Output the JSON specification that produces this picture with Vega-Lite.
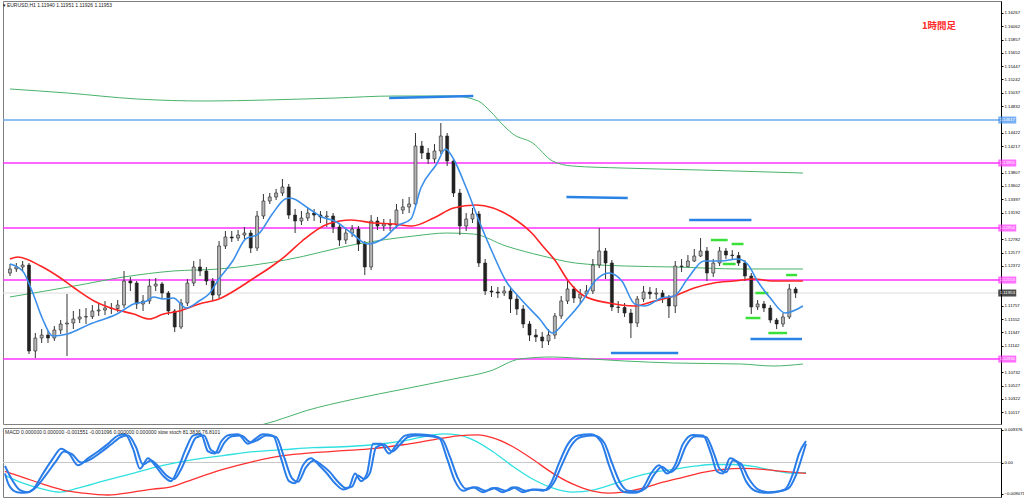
{
"$schema":"https://vega.github.io/schema/vega-lite/v6.json",
"padding":0,
"background":"white",
"spacing":2,
"title":{"text":"▾ EURUSD,H1 1.11940 1.11951 1.11926 1.11953","anchor":"start","offset":-7,"dx":2,"font":"Liberation Sans","fontSize":5,"fontWeight":"normal","color":"#222"},
"config":{"view":{"stroke":"#808080","strokeWidth":1},"axis":{"grid":false,"labelFont":"Liberation Sans","labelFontSize":4.3,"labelColor":"#000","tickColor":"#000","tickSize":2,"domainColor":"#000","labelPadding":1}},
"datasets":{
"levels":[{"p":1.14617,"kind":"blue"},{"p":1.13955,"kind":"mag"},{"p":1.12954,"kind":"mag"},{"p":1.12153,"kind":"mag"},{"p":1.10936,"kind":"mag"},{"p":1.11953,"kind":"cur"}],
"segs":[{"kind":"blue","i1":239.4,"i2":292.5,"p1":1.14956,"p2":1.14987},{"kind":"blue","i1":351.3,"i2":390,"p1":1.13432,"p2":1.13416},{"kind":"blue","i1":428.8,"i2":468.1,"p1":1.13077,"p2":1.13077},{"kind":"blue","i1":379.4,"i2":421.9,"p1":1.11029,"p2":1.11029},{"kind":"blue","i1":467.5,"i2":500,"p1":1.11245,"p2":1.11245},{"kind":"green","i1":442.5,"i2":453.1,"p1":1.12769,"p2":1.12769},{"kind":"green","i1":455.6,"i2":463.1,"p1":1.12708,"p2":1.12708},{"kind":"green","i1":450,"i2":458.1,"p1":1.124,"p2":1.124},{"kind":"green","i1":470.6,"i2":478.8,"p1":1.11953,"p2":1.11953},{"kind":"green","i1":490,"i2":496.9,"p1":1.1223,"p2":1.1223},{"kind":"green","i1":464.4,"i2":473.8,"p1":1.11568,"p2":1.11568},{"kind":"green","i1":478.8,"i2":490.6,"p1":1.11337,"p2":1.11337}],
"candles":[
{"i":0,"o":1.12261,"h":1.124,"l":1.12215,"c":1.12323},{"i":4,"o":1.12323,"h":1.12415,"l":1.12277,"c":1.12354},{"i":8,"o":1.12354,"h":1.12446,"l":1.12292,"c":1.12384},{"i":12,"o":1.12384,"h":1.12415,"l":1.11014,"c":1.1106},{"i":16,"o":1.1106,"h":1.11337,"l":1.10952,"c":1.1126},{"i":20,"o":1.1126,"h":1.11399,"l":1.11183,"c":1.11306},{"i":24,"o":1.11306,"h":1.11368,"l":1.11183,"c":1.1126},{"i":28,"o":1.1126,"h":1.11445,"l":1.11214,"c":1.11383},{"i":32,"o":1.11383,"h":1.11537,"l":1.11322,"c":1.11476},{"i":36,"o":1.11476,"h":1.11938,"l":1.10983,"c":1.11491},
{"i":40,"o":1.11491,"h":1.11676,"l":1.11399,"c":1.11553},{"i":44,"o":1.11553,"h":1.11707,"l":1.11491,"c":1.11584},{"i":48,"o":1.11584,"h":1.11722,"l":1.11476,"c":1.1159},{"i":52,"o":1.1159,"h":1.11768,"l":1.11553,"c":1.11676},{"i":56,"o":1.11676,"h":1.11799,"l":1.11599,"c":1.11691},{"i":60,"o":1.11691,"h":1.1183,"l":1.11614,"c":1.11722},{"i":64,"o":1.11722,"h":1.11799,"l":1.1163,"c":1.11715},{"i":68,"o":1.11715,"h":1.11845,"l":1.11661,"c":1.11768},{"i":72,"o":1.11768,"h":1.12292,"l":1.11722,"c":1.12138},{"i":76,"o":1.12138,"h":1.122,"l":1.11984,"c":1.12107},
{"i":80,"o":1.12107,"h":1.12138,"l":1.11707,"c":1.11784},{"i":84,"o":1.11784,"h":1.11922,"l":1.11676,"c":1.1183},{"i":88,"o":1.1183,"h":1.12169,"l":1.11784,"c":1.12061},{"i":92,"o":1.12061,"h":1.12184,"l":1.11984,"c":1.12092},{"i":96,"o":1.12092,"h":1.12123,"l":1.11861,"c":1.11953},{"i":100,"o":1.11953,"h":1.11984,"l":1.11614,"c":1.11676},{"i":104,"o":1.11676,"h":1.11707,"l":1.11353,"c":1.1143},{"i":108,"o":1.1143,"h":1.11861,"l":1.11399,"c":1.11799},{"i":112,"o":1.11799,"h":1.12169,"l":1.11753,"c":1.12107},{"i":116,"o":1.12107,"h":1.12446,"l":1.12061,"c":1.12354},
{"i":120,"o":1.12354,"h":1.12477,"l":1.12215,"c":1.12292},{"i":124,"o":1.12292,"h":1.12354,"l":1.12076,"c":1.12138},{"i":128,"o":1.12138,"h":1.12184,"l":1.1183,"c":1.11922},{"i":132,"o":1.11922,"h":1.12754,"l":1.11876,"c":1.12677},{"i":136,"o":1.12677,"h":1.12908,"l":1.12631,"c":1.12816},{"i":140,"o":1.12816,"h":1.12908,"l":1.12739,"c":1.128},{"i":144,"o":1.128,"h":1.12923,"l":1.12754,"c":1.12846},{"i":148,"o":1.12846,"h":1.1297,"l":1.12785,"c":1.12877},{"i":152,"o":1.12877,"h":1.12923,"l":1.12569,"c":1.12646},{"i":156,"o":1.12646,"h":1.13216,"l":1.126,"c":1.13139},
{"i":160,"o":1.13139,"h":1.13478,"l":1.13093,"c":1.1337},{"i":164,"o":1.1337,"h":1.13493,"l":1.13324,"c":1.13432},{"i":168,"o":1.13432,"h":1.13555,"l":1.13385,"c":1.13493},{"i":172,"o":1.13493,"h":1.13709,"l":1.13447,"c":1.13586},{"i":176,"o":1.13586,"h":1.13632,"l":1.13093,"c":1.13154},{"i":180,"o":1.13154,"h":1.13247,"l":1.12877,"c":1.13062},{"i":184,"o":1.13062,"h":1.13216,"l":1.13,"c":1.13108},{"i":188,"o":1.13108,"h":1.13262,"l":1.13062,"c":1.13185},{"i":192,"o":1.13185,"h":1.13247,"l":1.13062,"c":1.13154},{"i":196,"o":1.13154,"h":1.13216,"l":1.13031,"c":1.13124},
{"i":200,"o":1.13124,"h":1.13216,"l":1.1297,"c":1.13139},{"i":204,"o":1.13139,"h":1.13185,"l":1.12877,"c":1.1297},{"i":208,"o":1.1297,"h":1.13016,"l":1.12677,"c":1.12769},{"i":212,"o":1.12769,"h":1.12954,"l":1.12708,"c":1.12877},{"i":216,"o":1.12877,"h":1.13,"l":1.12816,"c":1.12939},{"i":220,"o":1.12939,"h":1.12985,"l":1.126,"c":1.12708},{"i":224,"o":1.12708,"h":1.12754,"l":1.1223,"c":1.12354},{"i":228,"o":1.12354,"h":1.13154,"l":1.12307,"c":1.13062},{"i":232,"o":1.13062,"h":1.13124,"l":1.12923,"c":1.12985},{"i":236,"o":1.12985,"h":1.13093,"l":1.12908,"c":1.13016},
{"i":240,"o":1.13016,"h":1.13093,"l":1.12908,"c":1.13},{"i":244,"o":1.13,"h":1.13324,"l":1.12954,"c":1.13231},{"i":248,"o":1.13231,"h":1.13401,"l":1.1317,"c":1.13278},{"i":252,"o":1.13278,"h":1.13432,"l":1.13185,"c":1.13324},{"i":256,"o":1.13324,"h":1.14417,"l":1.13293,"c":1.14217},{"i":260,"o":1.14217,"h":1.14294,"l":1.14017,"c":1.14109},{"i":264,"o":1.14109,"h":1.14186,"l":1.1394,"c":1.14017},{"i":268,"o":1.14017,"h":1.14248,"l":1.13955,"c":1.1414},{"i":272,"o":1.1414,"h":1.14571,"l":1.14094,"c":1.14371},{"i":276,"o":1.14371,"h":1.14417,"l":1.13909,"c":1.13986},
{"i":280,"o":1.13986,"h":1.14032,"l":1.13432,"c":1.13493},{"i":284,"o":1.13493,"h":1.13555,"l":1.12846,"c":1.12985},{"i":288,"o":1.12985,"h":1.13185,"l":1.12908,"c":1.13093},{"i":292,"o":1.13093,"h":1.13262,"l":1.13031,"c":1.1317},{"i":296,"o":1.1317,"h":1.13216,"l":1.12354,"c":1.12415},{"i":300,"o":1.12415,"h":1.12477,"l":1.11922,"c":1.11984},{"i":304,"o":1.11984,"h":1.12061,"l":1.11892,"c":1.11969},{"i":308,"o":1.11969,"h":1.12046,"l":1.11876,"c":1.11953},{"i":312,"o":1.11953,"h":1.12061,"l":1.11907,"c":1.11984},{"i":316,"o":1.11984,"h":1.12046,"l":1.11645,"c":1.11861},
{"i":320,"o":1.11861,"h":1.11922,"l":1.11614,"c":1.11707},{"i":324,"o":1.11707,"h":1.11768,"l":1.11414,"c":1.11476},{"i":328,"o":1.11476,"h":1.11522,"l":1.11214,"c":1.11306},{"i":332,"o":1.11306,"h":1.11399,"l":1.11199,"c":1.11276},{"i":336,"o":1.11276,"h":1.11353,"l":1.11106,"c":1.11214},{"i":340,"o":1.11214,"h":1.11399,"l":1.11152,"c":1.11306},{"i":344,"o":1.11306,"h":1.11645,"l":1.11245,"c":1.11599},{"i":348,"o":1.11599,"h":1.11907,"l":1.11553,"c":1.1183},{"i":352,"o":1.1183,"h":1.12138,"l":1.11784,"c":1.12015},{"i":356,"o":1.12015,"h":1.12061,"l":1.11799,"c":1.11876},
{"i":360,"o":1.11876,"h":1.12015,"l":1.11784,"c":1.11938},{"i":364,"o":1.11938,"h":1.12076,"l":1.11876,"c":1.11984},{"i":368,"o":1.11984,"h":1.12477,"l":1.11938,"c":1.12384},{"i":372,"o":1.12384,"h":1.12954,"l":1.12338,"c":1.126},{"i":376,"o":1.126,"h":1.12646,"l":1.12169,"c":1.12415},{"i":380,"o":1.12415,"h":1.12461,"l":1.11676,"c":1.11738},{"i":384,"o":1.11738,"h":1.1183,"l":1.11645,"c":1.1173},{"i":388,"o":1.1173,"h":1.11799,"l":1.11584,"c":1.11645},{"i":392,"o":1.11645,"h":1.11707,"l":1.1126,"c":1.11491},{"i":396,"o":1.11491,"h":1.11907,"l":1.1143,"c":1.11861},
{"i":400,"o":1.11861,"h":1.12061,"l":1.11815,"c":1.11969},{"i":404,"o":1.11969,"h":1.12046,"l":1.11861,"c":1.11938},{"i":408,"o":1.11938,"h":1.1203,"l":1.11861,"c":1.11953},{"i":412,"o":1.11953,"h":1.11999,"l":1.11799,"c":1.11876},{"i":416,"o":1.11876,"h":1.11922,"l":1.11568,"c":1.11753},{"i":420,"o":1.11753,"h":1.12446,"l":1.11645,"c":1.12369},{"i":424,"o":1.12369,"h":1.12477,"l":1.12277,"c":1.1236},{"i":428,"o":1.1236,"h":1.12538,"l":1.12354,"c":1.12446},{"i":432,"o":1.12446,"h":1.12631,"l":1.12431,"c":1.12523},{"i":436,"o":1.12523,"h":1.128,"l":1.12508,"c":1.126},
{"i":440,"o":1.126,"h":1.12662,"l":1.12138,"c":1.12261},{"i":444,"o":1.12261,"h":1.12477,"l":1.122,"c":1.12415},{"i":448,"o":1.12415,"h":1.12662,"l":1.12369,"c":1.126},{"i":452,"o":1.126,"h":1.12646,"l":1.12477,"c":1.12538},{"i":456,"o":1.12538,"h":1.12615,"l":1.12461,"c":1.1253},{"i":460,"o":1.1253,"h":1.12585,"l":1.12369,"c":1.12415},{"i":464,"o":1.12415,"h":1.12461,"l":1.12138,"c":1.12215},{"i":468,"o":1.12215,"h":1.12261,"l":1.1163,"c":1.11738},{"i":472,"o":1.11738,"h":1.11845,"l":1.11691,"c":1.11784},{"i":476,"o":1.11784,"h":1.1183,"l":1.11661,"c":1.11722},
{"i":480,"o":1.11722,"h":1.11768,"l":1.11491,"c":1.11537},{"i":484,"o":1.11537,"h":1.11568,"l":1.11399,"c":1.11476},{"i":488,"o":1.11476,"h":1.11645,"l":1.1143,"c":1.11584},{"i":492,"o":1.11584,"h":1.12092,"l":1.11553,"c":1.12015},{"i":496,"o":1.12015,"h":1.12046,"l":1.11876,"c":1.11953}
],
"ma":[
{"s":"blue","i":0,"p":1.124},{"s":"blue","i":8,"p":1.12292},{"s":"blue","i":14.4,"p":1.11953},{"s":"blue","i":20.6,"p":1.11553},{"s":"blue","i":26.9,"p":1.11291},{"s":"blue","i":36.3,"p":1.11322},{"s":"blue","i":50.6,"p":1.11476},{"s":"blue","i":67.5,"p":1.1163},{"s":"blue","i":78.1,"p":1.11784},{"s":"blue","i":86.3,"p":1.1183},{"s":"blue","i":90.6,"p":1.11892},{"s":"blue","i":96.9,"p":1.11861},{"s":"blue","i":103.1,"p":1.11876},{"s":"blue","i":111.3,"p":1.11722},{"s":"blue","i":119.4,"p":1.1183},{"s":"blue","i":125.6,"p":1.11938},{"s":"blue","i":131.9,"p":1.12169},{"s":"blue","i":140.6,"p":1.12446},{"s":"blue","i":148.8,"p":1.12785},{"s":"blue","i":156.9,"p":1.12862},{"s":"blue","i":165.6,"p":1.1317},{"s":"blue","i":173.8,"p":1.13401},{"s":"blue","i":177,"p":1.13416},{"s":"blue","i":188.1,"p":1.13262},{"s":"blue","i":196.9,"p":1.13124},{"s":"blue","i":205,"p":1.13062},{"s":"blue","i":215.6,"p":1.12877},{"s":"blue","i":225.6,"p":1.12708},{"s":"blue","i":236.3,"p":1.128},{"s":"blue","i":244.4,"p":1.12985},{"s":"blue","i":253.1,"p":1.13093},{"s":"blue","i":259.4,"p":1.1357},{"s":"blue","i":269.4,"p":1.1394},{"s":"blue","i":275,"p":1.14171},{"s":"blue","i":280,"p":1.14017},{"s":"blue","i":288.1,"p":1.1357},{"s":"blue","i":296.9,"p":1.13016},{"s":"blue","i":305,"p":1.12554},{"s":"blue","i":313.1,"p":1.12138},{"s":"blue","i":321.9,"p":1.11876},{"s":"blue","i":334.4,"p":1.11553},{"s":"blue","i":342.5,"p":1.11337},{"s":"blue","i":350.6,"p":1.11522},{"s":"blue","i":361.3,"p":1.1183},{"s":"blue","i":369.4,"p":1.12138},{"s":"blue","i":378.1,"p":1.12261},{"s":"blue","i":386.3,"p":1.12138},{"s":"blue","i":394.4,"p":1.11784},{"s":"blue","i":400.6,"p":1.11753},{"s":"blue","i":411.3,"p":1.11876},{"s":"blue","i":419.4,"p":1.11907},{"s":"blue","i":428.1,"p":1.12184},{"s":"blue","i":438.1,"p":1.12446},{"s":"blue","i":448.8,"p":1.12446},{"s":"blue","i":459.4,"p":1.12477},{"s":"blue","i":465.6,"p":1.124},{"s":"blue","i":471.9,"p":1.12138},{"s":"blue","i":480,"p":1.11876},{"s":"blue","i":489.4,"p":1.11645},{"s":"blue","i":500.6,"p":1.11753},
{"s":"red","i":0,"p":1.12477},{"s":"red","i":5,"p":1.12508},{"s":"red","i":19.4,"p":1.12369},{"s":"red","i":31.9,"p":1.12184},{"s":"red","i":40.6,"p":1.1203},{"s":"red","i":53.1,"p":1.1183},{"s":"red","i":65.6,"p":1.11707},{"s":"red","i":78.1,"p":1.1163},{"s":"red","i":88.1,"p":1.11553},{"s":"red","i":96.9,"p":1.1163},{"s":"red","i":106.9,"p":1.11676},{"s":"red","i":119.4,"p":1.11784},{"s":"red","i":131.9,"p":1.11861},{"s":"red","i":144.4,"p":1.1203},{"s":"red","i":153.1,"p":1.12169},{"s":"red","i":165.6,"p":1.12369},{"s":"red","i":173.8,"p":1.12523},{"s":"red","i":184.4,"p":1.12754},{"s":"red","i":200.6,"p":1.13016},{"s":"red","i":215.6,"p":1.13077},{"s":"red","i":230,"p":1.13031},{"s":"red","i":242.5,"p":1.13016},{"s":"red","i":253.8,"p":1.12985},{"s":"red","i":267.5,"p":1.13108},{"s":"red","i":280,"p":1.13262},{"s":"red","i":294.4,"p":1.13308},{"s":"red","i":305,"p":1.13262},{"s":"red","i":317.5,"p":1.13108},{"s":"red","i":330,"p":1.12862},{"s":"red","i":336.3,"p":1.12677},{"s":"red","i":344.4,"p":1.12446},{"s":"red","i":352.5,"p":1.12138},{"s":"red","i":362.5,"p":1.11907},{"s":"red","i":378.1,"p":1.11799},{"s":"red","i":394.4,"p":1.11753},{"s":"red","i":406.9,"p":1.1183},{"s":"red","i":419.4,"p":1.11907},{"s":"red","i":431.9,"p":1.1203},{"s":"red","i":444.4,"p":1.12107},{"s":"red","i":456.9,"p":1.12138},{"s":"red","i":469.4,"p":1.12169},{"s":"red","i":481.9,"p":1.12138},{"s":"red","i":500.6,"p":1.12138},
{"s":"green","i":0,"p":1.11892},{"s":"green","i":40.6,"p":1.12061},{"s":"green","i":71.9,"p":1.122},{"s":"green","i":103.1,"p":1.12292},{"s":"green","i":131.9,"p":1.12323},{"s":"green","i":173.8,"p":1.12461},{"s":"green","i":219.4,"p":1.12708},{"s":"green","i":255,"p":1.12831},{"s":"green","i":275.6,"p":1.12877},{"s":"green","i":292.5,"p":1.12862},{"s":"green","i":313.1,"p":1.12677},{"s":"green","i":336.3,"p":1.12523},{"s":"green","i":356.9,"p":1.12415},{"s":"green","i":388.1,"p":1.12369},{"s":"green","i":419.4,"p":1.12354},{"s":"green","i":461.3,"p":1.12323},{"s":"green","i":500.6,"p":1.12323},
{"s":"upper","i":0,"p":1.15095},{"s":"upper","i":36.3,"p":1.15033},{"s":"upper","i":80,"p":1.14941},{"s":"upper","i":123.8,"p":1.1491},{"s":"upper","i":161.3,"p":1.14925},{"s":"upper","i":205,"p":1.14956},{"s":"upper","i":242.5,"p":1.14987},{"s":"upper","i":280,"p":1.14987},{"s":"upper","i":295.6,"p":1.1491},{"s":"upper","i":303.1,"p":1.14756},{"s":"upper","i":311.3,"p":1.1454},{"s":"upper","i":317.5,"p":1.14402},{"s":"upper","i":330,"p":1.14263},{"s":"upper","i":342.5,"p":1.13986},{"s":"upper","i":355,"p":1.13909},{"s":"upper","i":386.3,"p":1.13878},{"s":"upper","i":436.3,"p":1.13847},{"s":"upper","i":500.6,"p":1.13801},
{"s":"lower","i":148.8,"p":1.09859},{"s":"lower","i":167.5,"p":1.09982},{"s":"lower","i":186.3,"p":1.10136},{"s":"lower","i":217.5,"p":1.10321},{"s":"lower","i":248.8,"p":1.10475},{"s":"lower","i":280,"p":1.10629},{"s":"lower","i":303.1,"p":1.10752},{"s":"lower","i":321.9,"p":1.10937},{"s":"lower","i":342.5,"p":1.10968},{"s":"lower","i":356.9,"p":1.10952},{"s":"lower","i":388.1,"p":1.10906},{"s":"lower","i":419.4,"p":1.10875},{"s":"lower","i":461.3,"p":1.1086},{"s":"lower","i":481.9,"p":1.10829},{"s":"lower","i":500.6,"p":1.1086}
],
"macd":[
{"s":"macd","i":0,"v":-0.00369},{"s":"macd","i":11.25,"v":-0.00596},{"s":"macd","i":23.75,"v":-0.00767},{"s":"macd","i":34.4,"v":-0.00852},{"s":"macd","i":45.6,"v":-0.00738},{"s":"macd","i":61.25,"v":-0.0054},{"s":"macd","i":80,"v":-0.00312},{"s":"macd","i":98.75,"v":-0.00085},{"s":"macd","i":117.5,"v":0.00085},{"s":"macd","i":136.25,"v":0.00199},{"s":"macd","i":155,"v":0.00312},{"s":"macd","i":173.75,"v":0.00369},{"s":"macd","i":192.5,"v":0.00426},{"s":"macd","i":211.25,"v":0.00454},{"s":"macd","i":230,"v":0.00511},{"s":"macd","i":248.75,"v":0.00625},{"s":"macd","i":261.25,"v":0.00738},{"s":"macd","i":273.75,"v":0.00824},{"s":"macd","i":283.1,"v":0.00795},{"s":"macd","i":292.5,"v":0.00653},{"s":"macd","i":305,"v":0.00312},{"s":"macd","i":317.5,"v":-0.00114},{"s":"macd","i":330,"v":-0.00483},{"s":"macd","i":342.5,"v":-0.00738},{"s":"macd","i":355,"v":-0.00852},{"s":"macd","i":367.5,"v":-0.00795},{"s":"macd","i":380,"v":-0.00625},{"s":"macd","i":392.5,"v":-0.00426},{"s":"macd","i":405,"v":-0.00284},{"s":"macd","i":417.5,"v":-0.00199},{"s":"macd","i":430,"v":-0.00114},{"s":"macd","i":442.5,"v":-0.00057},{"s":"macd","i":455,"v":-0.00057},{"s":"macd","i":467.5,"v":-0.00114},{"s":"macd","i":480,"v":-0.00227},{"s":"macd","i":492.5,"v":-0.00312},{"s":"macd","i":500.6,"v":-0.00284},
{"s":"signal","i":0,"v":-0.00256},{"s":"signal","i":11.25,"v":-0.00426},{"s":"signal","i":23.75,"v":-0.00625},{"s":"signal","i":36.25,"v":-0.00795},{"s":"signal","i":48.75,"v":-0.0088},{"s":"signal","i":64.4,"v":-0.00937},{"s":"signal","i":80,"v":-0.00852},{"s":"signal","i":92.5,"v":-0.00767},{"s":"signal","i":103.1,"v":-0.0071},{"s":"signal","i":117.5,"v":-0.00483},{"s":"signal","i":136.25,"v":-0.00199},{"s":"signal","i":155,"v":0.00028},{"s":"signal","i":173.75,"v":0.00199},{"s":"signal","i":192.5,"v":0.00284},{"s":"signal","i":211.25,"v":0.00341},{"s":"signal","i":230,"v":0.00398},{"s":"signal","i":248.75,"v":0.00511},{"s":"signal","i":267.5,"v":0.00653},{"s":"signal","i":283.1,"v":0.00767},{"s":"signal","i":295.6,"v":0.00795},{"s":"signal","i":305,"v":0.0071},{"s":"signal","i":317.5,"v":0.00454},{"s":"signal","i":330,"v":0.00085},{"s":"signal","i":342.5,"v":-0.00312},{"s":"signal","i":355,"v":-0.00625},{"s":"signal","i":367.5,"v":-0.00824},{"s":"signal","i":376.9,"v":-0.0088},{"s":"signal","i":386.25,"v":-0.00852},{"s":"signal","i":398.75,"v":-0.00738},{"s":"signal","i":411.25,"v":-0.00568},{"s":"signal","i":423.75,"v":-0.00426},{"s":"signal","i":436.25,"v":-0.00284},{"s":"signal","i":448.75,"v":-0.00199},{"s":"signal","i":461.25,"v":-0.0017},{"s":"signal","i":473.75,"v":-0.00199},{"s":"signal","i":486.25,"v":-0.00256},{"s":"signal","i":500.6,"v":-0.00312}
],
"stoch":[
{"s":"main","i":0,"k":34},{"s":"main","i":2.5,"k":17},{"s":"main","i":7.5,"k":7},{"s":"main","i":12.5,"k":6},{"s":"main","i":17.5,"k":11},{"s":"main","i":23.75,"k":34},{"s":"main","i":30,"k":56},{"s":"main","i":35,"k":70},{"s":"main","i":40,"k":63},{"s":"main","i":45.6,"k":46},{"s":"main","i":51.9,"k":56},{"s":"main","i":58.1,"k":66},{"s":"main","i":64.4,"k":77},{"s":"main","i":70.6,"k":89},{"s":"main","i":75,"k":91},{"s":"main","i":80,"k":70},{"s":"main","i":84.4,"k":41},{"s":"main","i":89.4,"k":56},{"s":"main","i":93.75,"k":46},{"s":"main","i":98.75,"k":31},{"s":"main","i":103.75,"k":23},{"s":"main","i":108.1,"k":41},{"s":"main","i":113.1,"k":70},{"s":"main","i":117.5,"k":89},{"s":"main","i":122.5,"k":91},{"s":"main","i":126.9,"k":66},{"s":"main","i":131.25,"k":63},{"s":"main","i":135,"k":80},{"s":"main","i":140,"k":90},{"s":"main","i":145.6,"k":91},{"s":"main","i":151.9,"k":77},{"s":"main","i":156.25,"k":84},{"s":"main","i":161.25,"k":91},{"s":"main","i":167.5,"k":89},{"s":"main","i":172.5,"k":56},{"s":"main","i":177.5,"k":23},{"s":"main","i":181.25,"k":20},{"s":"main","i":186.25,"k":46},{"s":"main","i":191.25,"k":56},{"s":"main","i":196.25,"k":46},{"s":"main","i":201.25,"k":34},{"s":"main","i":206.25,"k":20},{"s":"main","i":211.25,"k":11},{"s":"main","i":215,"k":14},{"s":"main","i":218.75,"k":34},{"s":"main","i":222.5,"k":23},{"s":"main","i":226.25,"k":34},{"s":"main","i":230,"k":77},{"s":"main","i":235,"k":77},{"s":"main","i":240,"k":63},{"s":"main","i":245,"k":77},{"s":"main","i":250,"k":89},{"s":"main","i":256.25,"k":91},{"s":"main","i":264.4,"k":90},{"s":"main","i":271.25,"k":86},{"s":"main","i":276.25,"k":56},{"s":"main","i":281.25,"k":23},{"s":"main","i":286.25,"k":9},{"s":"main","i":292.5,"k":14},{"s":"main","i":298.75,"k":7},{"s":"main","i":305,"k":13},{"s":"main","i":311.25,"k":7},{"s":"main","i":317.5,"k":14},{"s":"main","i":323.75,"k":7},{"s":"main","i":330,"k":11},{"s":"main","i":336.25,"k":9},{"s":"main","i":341.25,"k":20},{"s":"main","i":346.25,"k":49},{"s":"main","i":351.9,"k":77},{"s":"main","i":358.1,"k":89},{"s":"main","i":366.25,"k":91},{"s":"main","i":372.5,"k":80},{"s":"main","i":377.5,"k":46},{"s":"main","i":382.5,"k":17},{"s":"main","i":387.5,"k":7},{"s":"main","i":393.75,"k":6},{"s":"main","i":398.75,"k":13},{"s":"main","i":403.75,"k":34},{"s":"main","i":408.75,"k":46},{"s":"main","i":413.75,"k":34},{"s":"main","i":418.75,"k":46},{"s":"main","i":423.75,"k":77},{"s":"main","i":430,"k":90},{"s":"main","i":436.25,"k":89},{"s":"main","i":441.25,"k":63},{"s":"main","i":445,"k":37},{"s":"main","i":448.75,"k":34},{"s":"main","i":453.1,"k":56},{"s":"main","i":458.1,"k":49},{"s":"main","i":463.1,"k":23},{"s":"main","i":468.75,"k":9},{"s":"main","i":475,"k":6},{"s":"main","i":481.25,"k":7},{"s":"main","i":487.5,"k":11},{"s":"main","i":492.5,"k":34},{"s":"main","i":496.25,"k":63},{"s":"main","i":500.6,"k":81},
{"s":"sig","i":0,"k":45},{"s":"sig","i":4.4,"k":25},{"s":"sig","i":9.4,"k":10},{"s":"sig","i":14.4,"k":7},{"s":"sig","i":19.4,"k":14},{"s":"sig","i":25.6,"k":32},{"s":"sig","i":31.9,"k":52},{"s":"sig","i":36.9,"k":66},{"s":"sig","i":41.9,"k":62},{"s":"sig","i":47.5,"k":50},{"s":"sig","i":53.75,"k":55},{"s":"sig","i":60,"k":65},{"s":"sig","i":66.25,"k":76},{"s":"sig","i":72.5,"k":87},{"s":"sig","i":76.9,"k":89},{"s":"sig","i":81.9,"k":72},{"s":"sig","i":86.25,"k":47},{"s":"sig","i":91.25,"k":53},{"s":"sig","i":95.6,"k":45},{"s":"sig","i":100.6,"k":32},{"s":"sig","i":105.6,"k":26},{"s":"sig","i":110,"k":40},{"s":"sig","i":115,"k":66},{"s":"sig","i":119.4,"k":86},{"s":"sig","i":124.4,"k":89},{"s":"sig","i":128.75,"k":68},{"s":"sig","i":133.1,"k":64},{"s":"sig","i":136.9,"k":78},{"s":"sig","i":141.9,"k":88},{"s":"sig","i":147.5,"k":89},{"s":"sig","i":153.75,"k":79},{"s":"sig","i":158.1,"k":83},{"s":"sig","i":163.1,"k":89},{"s":"sig","i":169.4,"k":87},{"s":"sig","i":174.4,"k":58},{"s":"sig","i":179.4,"k":27},{"s":"sig","i":183.1,"k":22},{"s":"sig","i":188.1,"k":43},{"s":"sig","i":193.1,"k":53},{"s":"sig","i":198.1,"k":46},{"s":"sig","i":203.1,"k":36},{"s":"sig","i":208.1,"k":22},{"s":"sig","i":213.1,"k":13},{"s":"sig","i":216.9,"k":15},{"s":"sig","i":220.6,"k":31},{"s":"sig","i":224.4,"k":26},{"s":"sig","i":228.1,"k":35},{"s":"sig","i":231.9,"k":72},{"s":"sig","i":236.9,"k":76},{"s":"sig","i":241.9,"k":66},{"s":"sig","i":246.9,"k":76},{"s":"sig","i":251.9,"k":87},{"s":"sig","i":258.1,"k":89},{"s":"sig","i":266.25,"k":88},{"s":"sig","i":273.1,"k":84},{"s":"sig","i":278.1,"k":58},{"s":"sig","i":283.1,"k":27},{"s":"sig","i":288.1,"k":12},{"s":"sig","i":294.4,"k":14},{"s":"sig","i":300.6,"k":9},{"s":"sig","i":306.9,"k":13},{"s":"sig","i":313.1,"k":9},{"s":"sig","i":319.4,"k":14},{"s":"sig","i":325.6,"k":9},{"s":"sig","i":331.9,"k":11},{"s":"sig","i":338.1,"k":10},{"s":"sig","i":343.1,"k":21},{"s":"sig","i":348.1,"k":47},{"s":"sig","i":353.75,"k":74},{"s":"sig","i":360,"k":87},{"s":"sig","i":368.1,"k":89},{"s":"sig","i":374.4,"k":79},{"s":"sig","i":379.4,"k":49},{"s":"sig","i":384.4,"k":21},{"s":"sig","i":389.4,"k":9},{"s":"sig","i":395.6,"k":8},{"s":"sig","i":400.6,"k":13},{"s":"sig","i":405.6,"k":32},{"s":"sig","i":410.6,"k":44},{"s":"sig","i":415.6,"k":36},{"s":"sig","i":420.6,"k":46},{"s":"sig","i":425.6,"k":74},{"s":"sig","i":431.9,"k":88},{"s":"sig","i":438.1,"k":87},{"s":"sig","i":443.1,"k":63},{"s":"sig","i":446.9,"k":40},{"s":"sig","i":450.6,"k":36},{"s":"sig","i":455,"k":53},{"s":"sig","i":460,"k":48},{"s":"sig","i":465,"k":26},{"s":"sig","i":470.6,"k":11},{"s":"sig","i":476.9,"k":7},{"s":"sig","i":483.1,"k":8},{"s":"sig","i":489.4,"k":12},{"s":"sig","i":494.4,"k":32},{"s":"sig","i":498.1,"k":58},{"s":"sig","i":500.6,"k":77}
],
"zero":[{"v":0}]
},
"vconcat":[
{"width":998,"height":423,
"title":{"text":"1時間足","anchor":"end","frame":"group","offset":-29,"dx":-45,"font":"Noto Sans CJK JP","fontSize":9.5,"fontWeight":"bold","color":"#ff2a2a"},
"resolve":{"axis":{"y":"independent"}},
"layer":[
{"data":{"name":"levels"},"transform":[{"filter":"datum.kind=='cur'"}],"mark":{"type":"rule","strokeWidth":1,"color":"#dcdcdc"},"encoding":{"y":{"field":"p","type":"quantitative","scale":{"domain":[1.09936,1.1645],"nice":false,"zero":false},"axis":{"orient":"right","values":[1.16267,1.16062,1.15857,1.15652,1.15447,1.15242,1.15037,1.14832,1.14422,1.14217,1.13807,1.13602,1.13397,1.13192,1.12782,1.12577,1.12372,1.11757,1.11552,1.11347,1.11142,1.10732,1.10527,1.10322,1.10117],"format":".5f","title":null}}}},
{"data":{"name":"levels"},"transform":[{"filter":"datum.kind=='blue'"}],"mark":{"type":"rule","strokeWidth":1.5,"color":"#6aa8ee"},"encoding":{"y":{"field":"p","type":"quantitative","scale":{"domain":[1.09936,1.1645],"nice":false,"zero":false},"axis":null}}},
{"data":{"name":"levels"},"transform":[{"filter":"datum.kind=='mag'"}],"mark":{"type":"rule","strokeWidth":1.5,"color":"#ff33ff"},"encoding":{"y":{"field":"p","type":"quantitative","scale":{"domain":[1.09936,1.1645],"nice":false,"zero":false},"axis":null}}},
{"data":{"name":"ma"},"transform":[{"filter":"datum.s=='upper' || datum.s=='lower' || datum.s=='green'"}],"mark":{"type":"line","strokeWidth":1,"interpolate":"monotone","clip":true,"color":"#49b36a"},"encoding":{"x":{"field":"i","type":"quantitative","scale":{"domain":[-1.25,622.5],"nice":false,"zero":false},"axis":null},"y":{"field":"p","type":"quantitative","scale":{"domain":[1.09936,1.1645],"nice":false,"zero":false},"axis":null},"detail":{"field":"s"},"order":{"field":"i"}}},
{"data":{"name":"segs"},"transform":[{"filter":"datum.kind=='blue'"}],"mark":{"type":"rule","strokeWidth":2.5,"color":"#2a82e4"},"encoding":{"x":{"field":"i1","type":"quantitative","scale":{"domain":[-1.25,622.5],"nice":false,"zero":false},"axis":null},"x2":{"field":"i2"},"y":{"field":"p1","type":"quantitative","scale":{"domain":[1.09936,1.1645],"nice":false,"zero":false},"axis":null},"y2":{"field":"p2"}}},
{"data":{"name":"segs"},"transform":[{"filter":"datum.kind=='green'"}],"mark":{"type":"rule","strokeWidth":2.5,"color":"#3ae03a"},"encoding":{"x":{"field":"i1","type":"quantitative","scale":{"domain":[-1.25,622.5],"nice":false,"zero":false},"axis":null},"x2":{"field":"i2"},"y":{"field":"p1","type":"quantitative","scale":{"domain":[1.09936,1.1645],"nice":false,"zero":false},"axis":null},"y2":{"field":"p2"}}},
{"data":{"name":"candles"},"mark":{"type":"rule","strokeWidth":1,"color":"#333333"},"encoding":{"x":{"field":"i","type":"quantitative","scale":{"domain":[-1.25,622.5],"nice":false,"zero":false},"axis":null},"y":{"field":"l","type":"quantitative","scale":{"domain":[1.09936,1.1645],"nice":false,"zero":false},"axis":null},"y2":{"field":"h"}}},
{"data":{"name":"candles"},"mark":{"type":"bar","orient":"vertical","width":3,"stroke":"#222","strokeWidth":0.6},"encoding":{"x":{"field":"i","type":"quantitative","scale":{"domain":[-1.25,622.5],"nice":false,"zero":false},"axis":null},"y":{"field":"o","type":"quantitative","scale":{"domain":[1.09936,1.1645],"nice":false,"zero":false},"axis":null},"y2":{"field":"c"},"fill":{"condition":{"test":"datum.c>=datum.o","value":"#b4b4b4"},"value":"#222222"}}},
{"data":{"name":"ma"},"transform":[{"filter":"datum.s=='red'"}],"mark":{"type":"line","strokeWidth":1.6,"interpolate":"monotone","color":"#ff2424"},"encoding":{"x":{"field":"i","type":"quantitative","scale":{"domain":[-1.25,622.5],"nice":false,"zero":false},"axis":null},"y":{"field":"p","type":"quantitative","scale":{"domain":[1.09936,1.1645],"nice":false,"zero":false},"axis":null},"order":{"field":"i"}}},
{"data":{"name":"ma"},"transform":[{"filter":"datum.s=='blue'"}],"mark":{"type":"line","strokeWidth":1.6,"interpolate":"monotone","color":"#3b8fea"},"encoding":{"x":{"field":"i","type":"quantitative","scale":{"domain":[-1.25,622.5],"nice":false,"zero":false},"axis":null},"y":{"field":"p","type":"quantitative","scale":{"domain":[1.09936,1.1645],"nice":false,"zero":false},"axis":null},"order":{"field":"i"}}},
{"data":{"name":"levels"},"mark":{"type":"tick","orient":"horizontal","size":18,"thickness":7},"encoding":{"x":{"datum":629.6,"type":"quantitative","scale":{"domain":[-1.25,622.5],"nice":false,"zero":false},"axis":null},"y":{"field":"p","type":"quantitative","scale":{"domain":[1.09936,1.1645],"nice":false,"zero":false},"axis":null},"color":{"condition":[{"test":"datum.kind=='blue'","value":"#3d8ff0"},{"test":"datum.kind=='cur'","value":"#000000"}],"value":"#ff33ff"}}},
{"data":{"name":"levels"},"mark":{"type":"text","font":"Liberation Sans","fontSize":4.3,"color":"#ffffff","align":"center","baseline":"middle"},"encoding":{"x":{"datum":629.6,"type":"quantitative","scale":{"domain":[-1.25,622.5],"nice":false,"zero":false},"axis":null},"y":{"field":"p","type":"quantitative","scale":{"domain":[1.09936,1.1645],"nice":false,"zero":false},"axis":null},"text":{"field":"p","format":".5f"}}}
]},
{"width":998,"height":69,
"title":{"text":"MACD 0.000000 0.000000 -0.001551 -0.001096 0.000000 0.000000 slow stoch 81.3836 76.8101","anchor":"start","frame":"group","offset":-7,"dx":2,"font":"Liberation Sans","fontSize":5,"fontWeight":"normal","color":"#222"},
"resolve":{"scale":{"y":"independent"}},
"layer":[
{"data":{"name":"zero"},"mark":{"type":"rule","strokeWidth":1,"color":"#c8c8c8"},"encoding":{"y":{"field":"v","type":"quantitative","scale":{"domain":[-0.00994,0.00994],"nice":false,"zero":false},"axis":{"orient":"right","values":[0.009376,0,-0.009071],"labelExpr":"datum.value==0 ? '0.00' : format(datum.value,'.6f')","title":null}}}},
{"data":{"name":"macd"},"transform":[{"filter":"datum.s=='macd'"}],"mark":{"type":"line","strokeWidth":1.3,"interpolate":"monotone","color":"#30e0e0"},"encoding":{"x":{"field":"i","type":"quantitative","scale":{"domain":[-1.25,622.5],"nice":false,"zero":false},"axis":{"values":[0,16,32,48,64,80,96,112,128,144,160,176,192,208,224,240,256,272,288,304,320,336,352,368,384,400,416,432,448,464,480,496],"labelAlign":"left","labelExpr":"['3 Sep 2015','3 Sep 21:00','4 Sep 13:00','7 Sep 05:00','7 Sep 21:00','8 Sep 13:00','9 Sep 05:00','9 Sep 21:00','10 Sep 13:00','11 Sep 05:00','11 Sep 21:00','14 Sep 13:00','15 Sep 05:00','15 Sep 21:00','16 Sep 13:00','17 Sep 05:00','17 Sep 21:00','18 Sep 13:00','21 Sep 05:00','21 Sep 21:00','22 Sep 13:00','23 Sep 05:00','23 Sep 21:00','24 Sep 13:00','25 Sep 05:00','25 Sep 21:00','28 Sep 13:00','29 Sep 05:00','29 Sep 21:00','30 Sep 13:00','1 Oct 05:00','1 Oct 21:00'][round(datum.value/16)]","title":null}},"y":{"field":"v","type":"quantitative","scale":{"domain":[-0.00994,0.00994],"nice":false,"zero":false},"axis":null},"order":{"field":"i"}}},
{"data":{"name":"macd"},"transform":[{"filter":"datum.s=='signal'"}],"mark":{"type":"line","strokeWidth":1.3,"interpolate":"monotone","color":"#ff3030"},"encoding":{"x":{"field":"i","type":"quantitative","scale":{"domain":[-1.25,622.5],"nice":false,"zero":false},"axis":null},"y":{"field":"v","type":"quantitative","scale":{"domain":[-0.00994,0.00994],"nice":false,"zero":false},"axis":null},"order":{"field":"i"}}},
{"data":{"name":"stoch"},"mark":{"type":"line","strokeWidth":2,"interpolate":"monotone","color":"#2a7de8"},"encoding":{"x":{"field":"i","type":"quantitative","scale":{"domain":[-1.25,622.5],"nice":false,"zero":false},"axis":null},"y":{"field":"k","type":"quantitative","scale":{"domain":[0,100],"nice":false,"zero":false},"axis":null},"detail":{"field":"s"},"order":{"field":"i"}}}
]}
]
}
